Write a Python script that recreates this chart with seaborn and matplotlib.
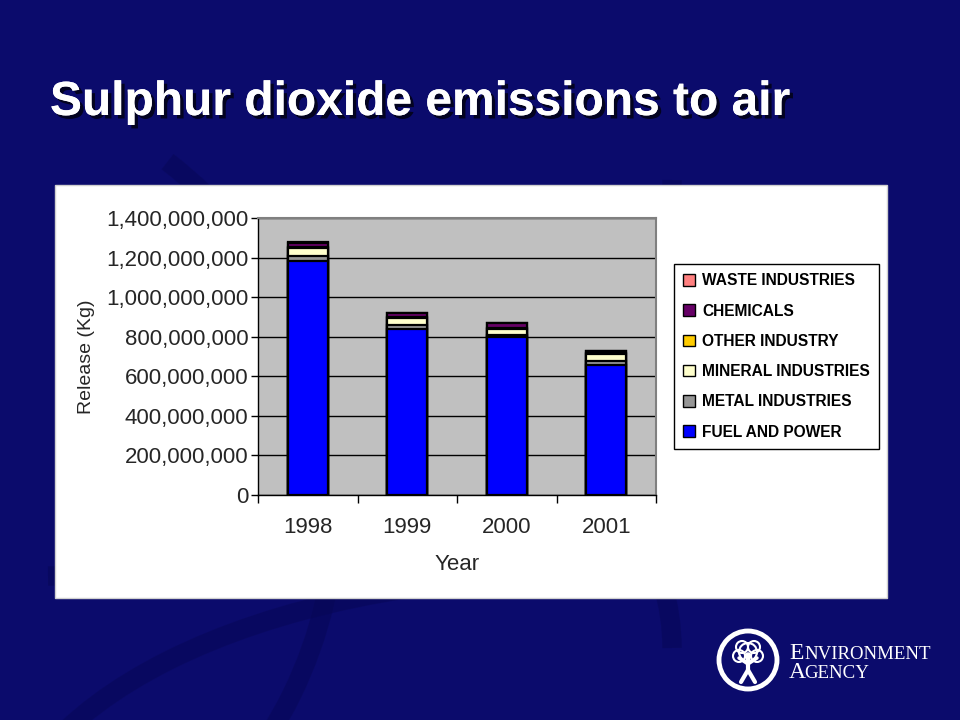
import matplotlib
matplotlib.use("Agg")
import matplotlib.pyplot as plt
import matplotlib.patheffects as pe
from matplotlib.patches import Rectangle, Circle, Arc, Patch
import seaborn as sns
import pandas as pd

# SO2 releases (kg)
years = ["1998", "1999", "2000", "2001"]
fuel_and_power = [1183e6, 839e6, 799e6, 657e6]
metal_industries = [25e6, 22e6, 10e6, 22e6]
mineral_industries = [40e6, 35e6, 30e6, 35e6]
other_industry = [3e6, 4e6, 4e6, 4e6]
chemicals = [25e6, 18e6, 24e6, 8e6]
waste_industries = [2e6, 2e6, 2e6, 2e6]

sectors = ["FUEL AND POWER", "METAL INDUSTRIES", "MINERAL INDUSTRIES",
           "OTHER INDUSTRY", "CHEMICALS", "WASTE INDUSTRIES"]
colors = ["#0000FF", "#969696", "#FFFFCC", "#FFCC00", "#660066", "#FF8080"]

df = pd.DataFrame({"Year": years,
                   "FUEL AND POWER": fuel_and_power,
                   "METAL INDUSTRIES": metal_industries,
                   "MINERAL INDUSTRIES": mineral_industries,
                   "OTHER INDUSTRY": other_industry,
                   "CHEMICALS": chemicals,
                   "WASTE INDUSTRIES": waste_industries})
# stack tops
tops = df[sectors].cumsum(axis=1)
tops["Year"] = df["Year"]

sns.set_style("white")
plt.rcParams["font.family"] = ["Liberation Sans", "DejaVu Sans"]

bg = "#0b0b6c"
fig = plt.figure(figsize=(9.6, 7.2), dpi=100, facecolor=bg)

# faint swirls in the slide background
for (cx, cy, w, h, t1, t2) in [(0.05, 0.75, 1.3, 1.1, 270, 360),
                               (0.2, 0.1, 1.0, 0.9, 0, 90),
                               (-0.1, 0.3, 0.9, 1.2, 300, 60),
                               (0.6, -0.2, 1.2, 0.8, 90, 180)]:
    fig.add_artist(Arc((cx, cy), w, h, theta1=t1, theta2=t2, transform=fig.transFigure,
                       color="#070755", lw=14, alpha=0.5, zorder=-3))

# white chart panel
fig.add_artist(Rectangle((55 / 960, 1 - 598 / 720), 832 / 960, 413 / 720,
                         transform=fig.transFigure, facecolor="white", edgecolor="#d0d0d0",
                         lw=1, zorder=-2))

fig.text(50 / 960, 1 - 115 / 720, "Sulphur dioxide emissions to air", color="white",
         fontsize=34.5, fontweight="bold", ha="left", va="baseline",
         path_effects=[pe.withSimplePatchShadow(offset=(2.5, -2.5), shadow_rgbFace="black", alpha=0.7),
                       pe.Normal()])

ax = fig.add_axes([258 / 960, 1 - 495 / 720, 398 / 960, 277 / 720])
ax.set_facecolor("#C0C0C0")

for s, c in zip(reversed(sectors), reversed(colors)):
    sns.barplot(data=tops, x="Year", y=s, color=c, width=0.4, edgecolor="black",
                linewidth=1.6, saturation=1, ax=ax, zorder=3)

ax.set_ylim(0, 1.4e9)
ax.set_xlim(-0.5, 3.5)
ax.set_yticks([i * 2e8 for i in range(8)])
ax.yaxis.set_major_formatter(matplotlib.ticker.FuncFormatter(lambda v, p: f"{v:,.0f}"))
ax.grid(axis="y", color="black", lw=1, zorder=1)
ax.set_axisbelow(True)
ax.tick_params(axis="y", which="major", length=5, width=1, color="black", labelsize=16, pad=2, left=True)
ax.tick_params(axis="x", which="major", length=0, labelsize=16, pad=16)
ax.set_xticks([-0.5, 0.5, 1.5, 2.5, 3.5], minor=True)
ax.tick_params(axis="x", which="minor", length=6, width=1, color="black", bottom=True)
ax.set_xlabel("Year", fontsize=16, labelpad=11)
ax.set_ylabel("Release (Kg)", fontsize=14, labelpad=8)
for side in ["left", "bottom"]:
    ax.spines[side].set_color("black")
    ax.spines[side].set_linewidth(1)
for side in ["top", "right"]:
    ax.spines[side].set_color("#808080")
    ax.spines[side].set_linewidth(1.5)

handles = [Patch(facecolor=c, edgecolor="black", lw=1, label=s)
           for s, c in zip(reversed(sectors), reversed(colors))]
leg = fig.legend(handles=handles, loc="upper left", bbox_to_anchor=(674 / 960, 1 - 264 / 720),
                 frameon=True, fancybox=False, edgecolor="black", framealpha=1,
                 handlelength=0.75, handleheight=0.75, handletextpad=0.45,
                 labelspacing=0.98, borderpad=0.6, borderaxespad=0,
                 prop={"family": "Liberation Sans", "weight": "bold", "size": 11.2})
leg.get_frame().set_linewidth(1)
for t in leg.get_texts():
    t.set_color("black")

# Environment Agency logo
logo_ax = fig.add_axes([716 / 960, 1 - 692 / 720, 64 / 960, 64 / 720])
logo_ax.set_xlim(0, 64)
logo_ax.set_ylim(0, 64)
logo_ax.set_aspect("equal")
logo_ax.axis("off")
logo_ax.add_patch(Circle((32, 32), 29, facecolor=bg, edgecolor="white", lw=3.5))
for (cx, cy, r) in [(32, 40, 9), (23, 36, 6), (41, 36, 6), (26, 45, 6), (38, 45, 6)]:
    logo_ax.add_patch(Circle((cx, cy), r, facecolor="none", edgecolor="white", lw=1.5))
logo_ax.add_patch(Circle((32, 36), 3, facecolor="white"))
logo_ax.plot([32, 32], [33, 22], color="white", lw=3)
logo_ax.plot([23, 32, 41], [34, 28, 34], color="white", lw=2.5)
logo_ax.plot([25, 32, 39], [10, 22, 10], color="white", lw=3)

fig.text(789 / 960, 1 - 659 / 720, "E", color="white", fontsize=17,
         family="Liberation Serif", va="baseline")
fig.text(804 / 960, 1 - 659 / 720, "NVIRONMENT", color="white", fontsize=13.6,
         family="Liberation Serif", va="baseline")
fig.text(789 / 960, 1 - 678 / 720, "A", color="white", fontsize=17,
         family="Liberation Serif", va="baseline")
fig.text(804 / 960, 1 - 678 / 720, "GENCY", color="white", fontsize=13.6,
         family="Liberation Serif", va="baseline")

fig.savefig("out.png", dpi=100, facecolor=bg)
